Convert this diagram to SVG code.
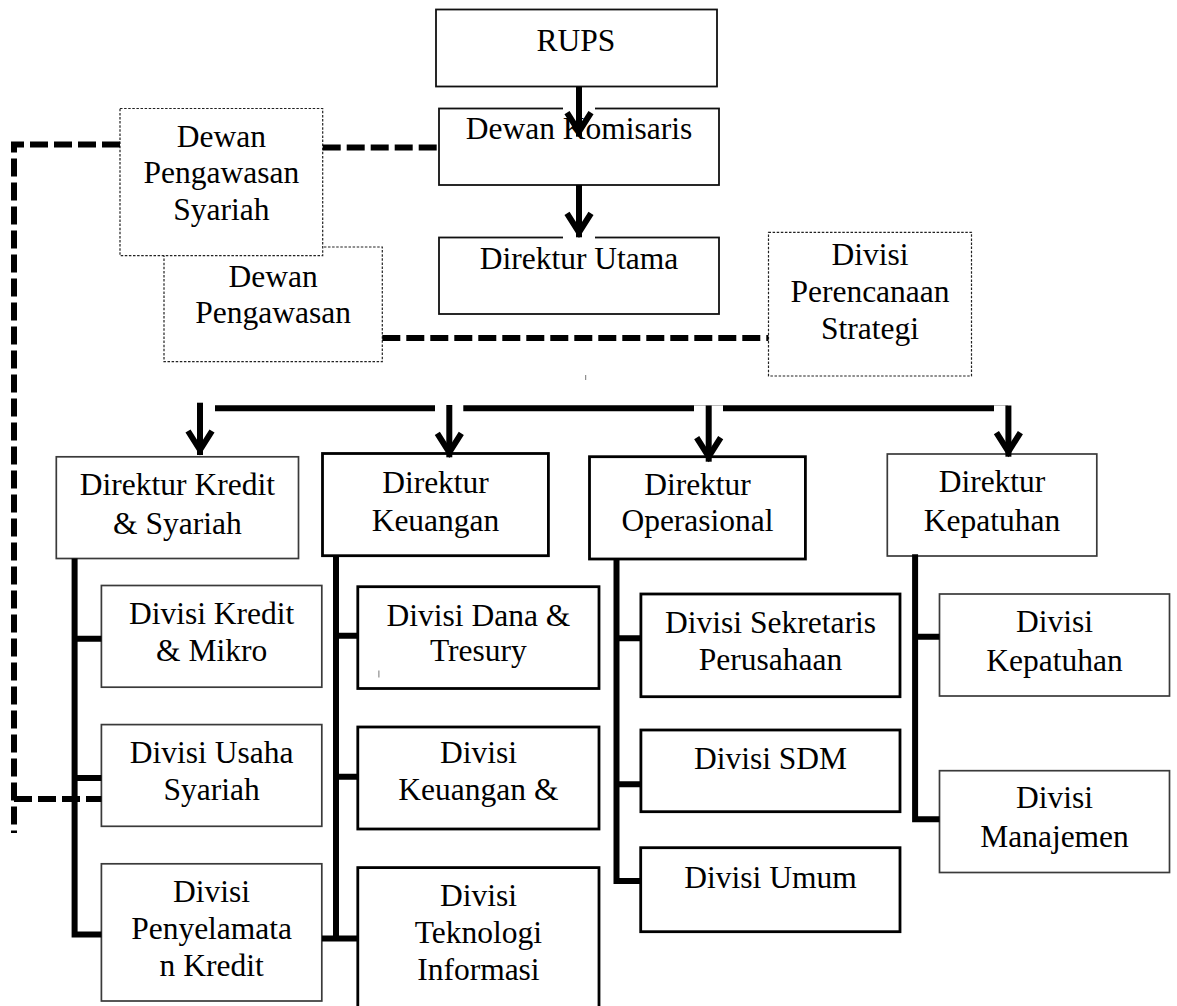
<svg xmlns="http://www.w3.org/2000/svg" width="1177" height="1006" viewBox="0 0 1177 1006">
<style>
  text { font-family: "Liberation Serif", "Times New Roman", serif; font-size: 31.5px; fill: #000; text-anchor: middle; }
  .box { fill: #fff; }
  .top { stroke: #111; stroke-width: 1.8; }
  .thin { stroke: #3a3a3a; stroke-width: 1.7; }
  .thick { stroke: #000; stroke-width: 2.8; }
  .dot { stroke: #222; stroke-width: 1.2; stroke-dasharray: 2.5 1.6; }
  .solid { fill: none; stroke: #000; stroke-width: 6; stroke-linejoin: miter; }
  .dash { fill: none; stroke: #000; stroke-width: 6; stroke-dasharray: 18 6; }
  .arrow { fill: none; stroke: #000; stroke-width: 6; marker-end: url(#chev); }
  .tick { stroke: #777; stroke-width: 1; }
</style>
<defs>
  <marker id="chev" markerUnits="userSpaceOnUse" orient="auto" refX="5" refY="0" markerWidth="60" markerHeight="60" viewBox="-40 -30 60 60" overflow="visible">
    <path d="M-19,-12 L0,0 L-19,12" fill="none" stroke="#000" stroke-width="6" stroke-linejoin="miter" stroke-miterlimit="10"/>
  </marker>
</defs>

<!-- dotted side boxes -->
<g id="dewan-pengawasan">
  <rect class="box dot" x="164" y="247" width="218.3" height="114.7"/>
  <text x="273.2" y="286.7">Dewan</text>
  <text x="273.2" y="323.3">Pengawasan</text>
</g>
<g id="dewan-pengawasan-syariah">
  <rect class="box dot" x="120" y="108.5" width="202.7" height="147.2"/>
  <text x="221.3" y="146.7">Dewan</text>
  <text x="221.3" y="183.3">Pengawasan</text>
  <text x="221.3" y="220">Syariah</text>
</g>
<g id="divisi-perencanaan-strategi">
  <rect class="box dot" x="768.5" y="232.3" width="203" height="143.7"/>
  <text x="870" y="265">Divisi</text>
  <text x="870" y="301.7">Perencanaan</text>
  <text x="870" y="338.5">Strategi</text>
</g>

<!-- top chain -->
<g id="rups">
  <rect class="box top" x="436" y="9.5" width="281" height="77"/>
  <text x="576" y="50.7">RUPS</text>
</g>
<g id="dewan-komisaris">
  <rect class="box top" x="439" y="108.5" width="280" height="76.5"/>
  <text x="579" y="139">Dewan Komisaris</text>
</g>
<g id="direktur-utama">
  <rect class="box top" x="439" y="237.5" width="280" height="76.5"/>
  <text x="579" y="269.3">Direktur Utama</text>
</g>

<!-- directors -->
<g id="direktur-kredit-syariah">
  <rect class="box thin" x="56.3" y="456.8" width="242.2" height="101.7"/>
  <text x="177.4" y="495">Direktur Kredit</text>
  <text x="177.4" y="533.5">&amp; Syariah</text>
</g>
<g id="direktur-keuangan">
  <rect class="box thick" x="322.5" y="453.5" width="225.9" height="102.2"/>
  <text x="435.5" y="492.8">Direktur</text>
  <text x="435.5" y="530.6">Keuangan</text>
</g>
<g id="direktur-operasional">
  <rect class="box thick" x="589.5" y="456.7" width="215.9" height="102.3"/>
  <text x="697.5" y="495">Direktur</text>
  <text x="697.5" y="531">Operasional</text>
</g>
<g id="direktur-kepatuhan">
  <rect class="box thin" x="887.3" y="454" width="209.5" height="102"/>
  <text x="992" y="492.3">Direktur</text>
  <text x="992" y="531">Kepatuhan</text>
</g>

<!-- divisions: kredit column -->
<g id="divisi-kredit-mikro">
  <rect class="box thin" x="101.4" y="585.5" width="220.4" height="101.7"/>
  <text x="211.6" y="624.2">Divisi Kredit</text>
  <text x="211.6" y="660.9">&amp; Mikro</text>
</g>
<g id="divisi-usaha-syariah">
  <rect class="box thin" x="101.4" y="724.6" width="220.4" height="101.7"/>
  <text x="211.6" y="763.3">Divisi Usaha</text>
  <text x="211.6" y="800">Syariah</text>
</g>
<g id="divisi-penyelamatan-kredit">
  <rect class="box thin" x="101.4" y="863.8" width="220.4" height="137.2"/>
  <text x="211.6" y="902.4">Divisi</text>
  <text x="211.6" y="939.1">Penyelamata</text>
  <text x="211.6" y="975.8">n Kredit</text>
</g>

<!-- divisions: keuangan column -->
<g id="divisi-dana-tresury">
  <rect class="box thick" x="357.8" y="586.7" width="241.2" height="101.8"/>
  <text x="478.4" y="626">Divisi Dana &amp;</text>
  <text x="478.4" y="661">Tresury</text>
  <line class="tick" x1="378.9" y1="670.5" x2="378.9" y2="677.5"/>
</g>
<g id="divisi-keuangan">
  <rect class="box thick" x="357.8" y="727" width="241.2" height="102"/>
  <text x="478.4" y="763.3">Divisi</text>
  <text x="478.4" y="800">Keuangan &amp;</text>
</g>
<g id="divisi-teknologi-informasi">
  <rect class="box thick" x="357.8" y="867.6" width="241.2" height="150"/>
  <text x="478.4" y="906">Divisi</text>
  <text x="478.4" y="943">Teknologi</text>
  <text x="478.4" y="980">Informasi</text>
</g>

<!-- divisions: operasional column -->
<g id="divisi-sekretaris-perusahaan">
  <rect class="box thick" x="640.9" y="594" width="259.1" height="102.7"/>
  <text x="770.5" y="632.7">Divisi Sekretaris</text>
  <text x="770.5" y="670">Perusahaan</text>
</g>
<g id="divisi-sdm">
  <rect class="box thick" x="640.9" y="730" width="259.1" height="81.7"/>
  <text x="770.5" y="769">Divisi SDM</text>
</g>
<g id="divisi-umum">
  <rect class="box thick" x="640.7" y="847.7" width="259.3" height="84"/>
  <text x="770.5" y="887.7">Divisi Umum</text>
</g>

<!-- divisions: kepatuhan column -->
<g id="divisi-kepatuhan">
  <rect class="box thin" x="939.5" y="594" width="230" height="102"/>
  <text x="1054.5" y="631.7">Divisi</text>
  <text x="1054.5" y="670.7">Kepatuhan</text>
</g>
<g id="divisi-manajemen">
  <rect class="box thin" x="939.5" y="770.7" width="230" height="101.8"/>
  <text x="1054.5" y="808.3">Divisi</text>
  <text x="1054.5" y="846.7">Manajemen</text>
</g>

<g id="connectors">
  <!-- dashed supervisory lines -->
  <path class="dash" d="M120,144.5 H14 V833"/>
  <path class="dash" d="M14,799 H101.4"/>
  <path class="dash" d="M322.7,147.5 H438.6"/>
  <path class="dash" d="M382.3,338 H768.5"/>

  <!-- top arrows -->
  <line x1="563" y1="108.5" x2="595" y2="108.5" stroke="#fff" stroke-width="3"/>
  <line x1="563" y1="237.5" x2="595" y2="237.5" stroke="#fff" stroke-width="3"/>
  <line class="arrow" x1="579" y1="86.7" x2="579" y2="136.7"/>
  <line class="arrow" x1="579" y1="185" x2="579" y2="237.3"/>

  <!-- bus to directors -->
  <line x1="694" y1="405.5" x2="723" y2="405.5" stroke="#bbb" stroke-width="1"/>
  <line x1="994" y1="405.5" x2="1008" y2="405.5" stroke="#bbb" stroke-width="1"/>
  <path class="solid" d="M215,408.3 H435 M463.3,408.3 H694 M723,408.3 H994"/>
  <line class="arrow" x1="200" y1="402.7" x2="200" y2="455"/>
  <line class="arrow" x1="449.3" y1="405" x2="449.3" y2="457.3"/>
  <line class="arrow" x1="708.7" y1="405.5" x2="708.7" y2="461.7"/>
  <line class="arrow" x1="1008.4" y1="405.5" x2="1008.4" y2="456.7"/>
  <line class="tick" x1="585.7" y1="375" x2="585.7" y2="380"/>

  <!-- kredit column -->
  <path class="solid" d="M74.6,558.5 V934.5 H101.4 M74.6,638.8 H101.4 M74.6,778 H101.4"/>
  <!-- keuangan column -->
  <path class="solid" d="M336,555.7 V938.4 M336,635.7 H357.8 M336,776.8 H357.8 M322,938.4 H357.8"/>
  <!-- operasional column -->
  <path class="solid" d="M616.5,559 V881 H640.7 M616.5,638.3 H640.9 M616.5,784.3 H640.9"/>
  <!-- kepatuhan column -->
  <path class="solid" d="M915.1,554.3 V819.3 H939.5 M915.1,636.7 H939.5"/>
</g>
</svg>
